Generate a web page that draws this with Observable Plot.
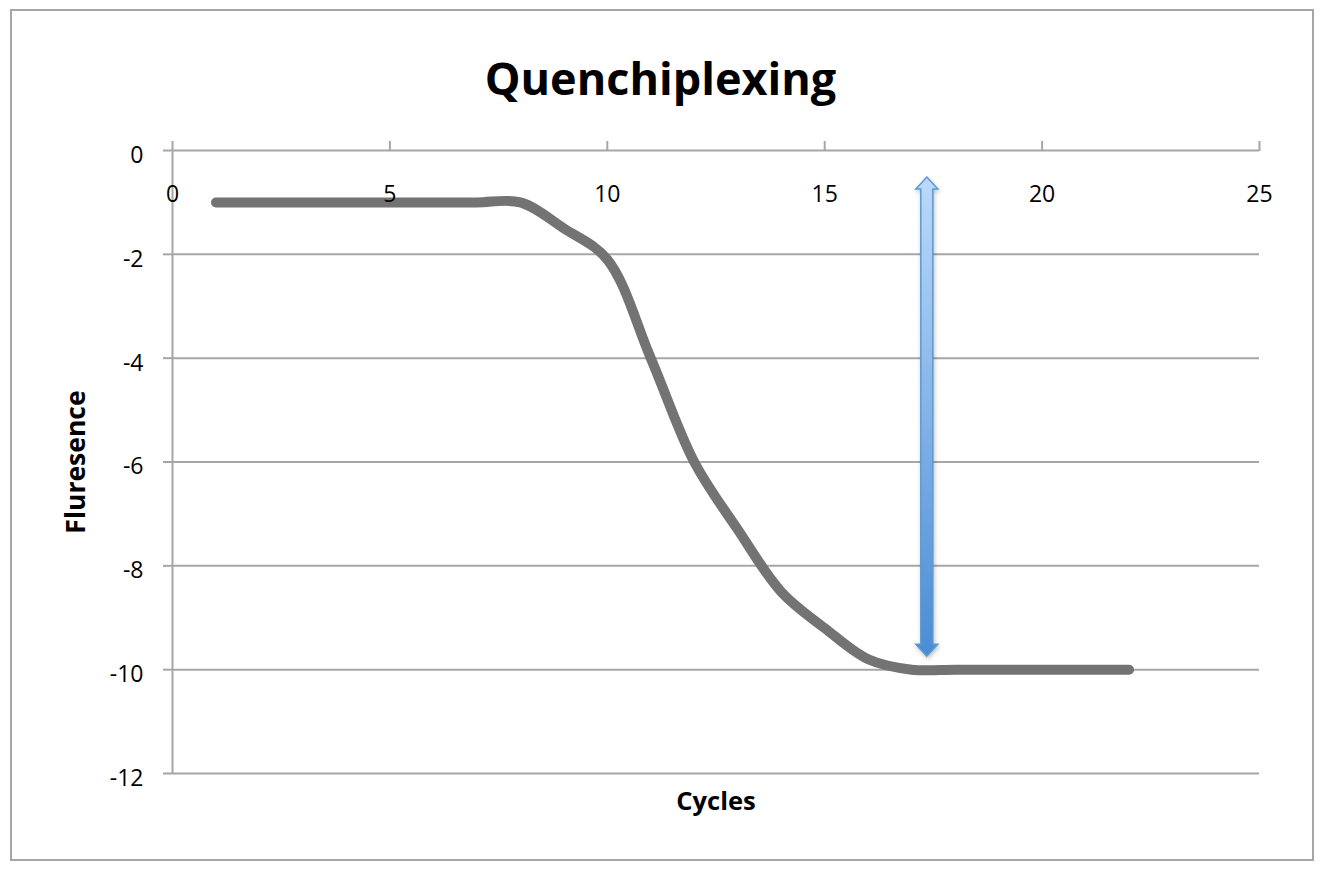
<!DOCTYPE html>
<html>
<head>
<meta charset="utf-8">
<script src="https://cdn.jsdelivr.net/npm/d3@7"></script>
<script src="https://cdn.jsdelivr.net/npm/@observablehq/plot@0.6"></script>
<style>
  body { margin: 0; background: #fff; }
  #wrap { position: relative; width: 1344px; height: 880px; overflow: hidden; font-family: "Open Sans", sans-serif; }
  #frame { position: absolute; left: 10px; top: 9px; width: 1304px; height: 852px; border: 2px solid #a6a6a6; box-sizing: border-box; }
  #title { position: absolute; left: 0; width: 1321px; top: 55px; text-align: center; font-size: 45px; line-height: 45px; font-weight: 700; color: #000; }
  #chart { position: absolute; left: 0; top: 0; }
</style>
</head>
<body>
<div id="wrap">
  <div id="frame"></div>
  <div id="chart"></div>
  <div id="title">Quenchiplexing</div>
</div>
<script>
// ---- data ----
const cycles = [1, 2, 3, 4, 5, 6, 7, 8, 9, 10, 11, 12, 13, 14, 15, 16, 17, 18, 19, 20, 21, 22];
const fluorescence = [-1, -1, -1, -1, -1, -1, -1, -1, -1.5, -2.1, -4, -6, -7.3, -8.5, -9.2, -9.8, -10, -10, -10, -10, -10, -10];
const xTicks = [0, 5, 10, 15, 20, 25];
const yTicks = [0, -2, -4, -6, -8, -10, -12];
const arrowX = [17.36];
const arrowTop = [-0.52];
const arrowBottom = [-9.75];
const xLabel = "Cycles";
const yLabel = "Fluresence";

const rows = cycles.map((c, i) => ({cycle: c, value: fluorescence[i]}));
const gridColor = "#a6a6a6";

function arrowMark(index, scales) {
  const x = scales.x(arrowX[0]);
  const y0 = scales.y(arrowTop[0]);
  const y1 = scales.y(arrowBottom[0]);
  const hw = 11, sw = 6, hh = 12;
  const g = d3.create("svg:g");
  const defs = g.append("defs");
  const grad = defs.append("linearGradient").attr("id", "arrowGrad")
    .attr("x1", 0).attr("y1", 0).attr("x2", 0).attr("y2", 1);
  grad.append("stop").attr("offset", "0%").attr("stop-color", "#bcd9f9");
  grad.append("stop").attr("offset", "100%").attr("stop-color", "#4a8cd4");
  const d = `M${x},${y0} L${x + hw},${y0 + hh} L${x + sw},${y0 + hh} L${x + sw},${y1 - hh} L${x + hw},${y1 - hh} L${x},${y1} L${x - hw},${y1 - hh} L${x - sw},${y1 - hh} L${x - sw},${y0 + hh} L${x - hw},${y0 + hh} Z`;
  g.append("path").attr("d", d)
    .attr("fill", "url(#arrowGrad)")
    .attr("stroke", "#5b9bd5")
    .attr("stroke-width", 1.5)
    .attr("stroke-linejoin", "miter")
    .style("filter", "drop-shadow(1px 2px 2px rgba(0,0,0,0.25))");
  return g.node();
}

const chart = Plot.plot({
  width: 1344,
  height: 880,
  marginLeft: 172,
  marginRight: 85,
  marginTop: 150,
  marginBottom: 107,
  x: {domain: [0, 25], label: null},
  y: {domain: [-12, 0], label: null},
  style: {fontFamily: "Open Sans, sans-serif", fontSize: "23px", color: "#000", background: "transparent", overflow: "visible"},
  marks: [
    Plot.ruleY(yTicks, {x1: 0, x2: 25, stroke: gridColor, strokeWidth: 2}),
    Plot.ruleX([0], {y1: -12, y2: 0, stroke: gridColor, strokeWidth: 2}),
    Plot.axisY({ticks: yTicks, tickSize: 9, tickFormat: () => "", label: null, stroke: gridColor, strokeWidth: 2, strokeOpacity: 1}),
    Plot.axisY({ticks: yTicks, tickSize: 0, tickPadding: 29, dy: 5, label: null, tickFormat: d => String(d), fontSize: 23, fill: "#000"}),
    Plot.axisX({anchor: "top", ticks: xTicks, tickSize: 10, tickFormat: () => "", label: null, stroke: gridColor, strokeWidth: 2, strokeOpacity: 1}),
    Plot.line(rows, {x: "cycle", y: "value", stroke: "#737373", strokeWidth: 10, curve: "catmull-rom", strokeLinecap: "round", strokeLinejoin: "round"}),
    Plot.text(xTicks, {x: d => d, text: d => String(d), frameAnchor: "top", dy: 35, fontSize: 23, fill: "#000"}),
    arrowMark,
    Plot.text([xLabel], {text: d => d, frameAnchor: "bottom", dy: 36, fontSize: 25.5, fontWeight: "bold", fill: "#000"}),
    Plot.text([yLabel], {text: d => d, frameAnchor: "left", textAnchor: "middle", dx: -96, rotate: -90, fontSize: 26.5, fontWeight: "bold", fill: "#000"})
  ]
});
document.getElementById("chart").appendChild(chart);
</script>
</body>
</html>
